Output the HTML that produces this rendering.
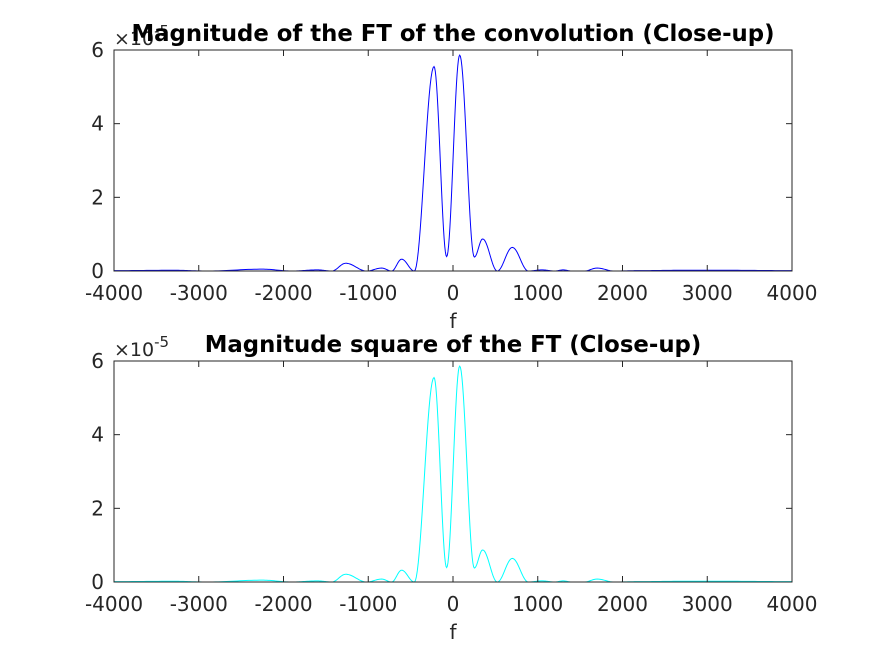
<!DOCTYPE html>
<html><head><meta charset="utf-8"><style>
body{margin:0;background:#fff;}
svg text{font-family:"DejaVu Sans","Liberation Sans",sans-serif;fill:#262626;}
</style></head><body>
<svg id="c" width="875" height="656" viewBox="0 0 875 656" xmlns="http://www.w3.org/2000/svg"></svg>
<script>
// extrema of |FT| (frequency, value x1e-5)
const freqs = [-4000,-3300,-2900,-2250,-1900,-1600,-1431,-1266,-1019,-842,-724,-606,-456,-224,-75,79,252,350,523,700,889,1050,1200,1300,1400,1550,1700,1900,2200,2700,3200,4000];
const mags  = [0.01,0.02,0.0,0.05,0.0,0.03,0.0,0.21,0.0,0.08,0.0,0.32,0.0,5.55,0.39,5.86,0.38,0.87,0.0,0.64,0.0,0.03,0.0,0.03,0.0,0.0,0.08,0.0,0.01,0.02,0.02,0.01];
const xTicks = [-4000,-3000,-2000,-1000,0,1000,2000,3000,4000];
const yTicks = [0,2,4,6];
const panels = [
 {top:50,bottom:271,color:"#0000ff",title:"Magnitude of the FT of the convolution (Close-up)",name:"top"},
 {top:361,bottom:582,color:"#00ffff",title:"Magnitude square of the FT (Close-up)",name:"bottom"}
];
const L=114,R=792,NS="http://www.w3.org/2000/svg",svg=document.getElementById('c');
function mk(t,a,p){const e=document.createElementNS(NS,t);for(const k in a)e.setAttribute(k,a[k]);(p||svg).appendChild(e);return e;}
const xs=f=>L+(f+4000)/8000*(R-L);
panels.forEach(P=>{
 const ys=v=>P.bottom-v/6*(P.bottom-P.top);
 const g=mk('g',{});
 
 
 let d='';
 for(let i=0;i<freqs.length-1;i++){
  const f0=freqs[i],f1=freqs[i+1],v0=mags[i],v1=mags[i+1];
  for(let k=0;k<=20;k++){const t=k/20,s=(1-Math.cos(Math.PI*t))/2;
   const x=xs(f0+(f1-f0)*t),y=ys(v0+(v1-v0)*s);
   d+=(d?'L':'M')+x.toFixed(2)+','+y.toFixed(2);}
 }
 const p=mk('path',{d:d,fill:'none',stroke:P.color,'stroke-width':1},g);
 
 
 const box=mk('rect',{x:L,y:P.top,width:R-L,height:P.bottom-P.top,fill:'none',stroke:'#262626','stroke-width':1},g);
 
 
 xTicks.forEach(t=>{const x=xs(t);
  mk('line',{x1:x,x2:x,y1:P.bottom,y2:P.bottom-6,stroke:'#262626'},g);
  mk('line',{x1:x,x2:x,y1:P.top,y2:P.top+6,stroke:'#262626'},g);
  const tx=mk('text',{x:x,y:P.bottom+29,'text-anchor':'middle','font-size':20},g);tx.textContent=t;
  
  
 });
 yTicks.forEach(t=>{const y=ys(t);
  mk('line',{x1:L,x2:L+6,y1:y,y2:y,stroke:'#262626'},g);
  mk('line',{x1:R,x2:R-6,y1:y,y2:y,stroke:'#262626'},g);
  const tx=mk('text',{x:L-10,y:y+7,'text-anchor':'end','font-size':20},g);tx.textContent=t;
  
  
 });
 const ex=mk('text',{x:L,y:P.top-5,'font-size':19},g);ex.innerHTML='×10<tspan dy="-9" font-size="15">-5</tspan>';
 
 
 const ti=mk('text',{x:453,y:P.top-9,'text-anchor':'middle','font-size':22.8,'font-weight':'bold',style:'fill:#000'},g);ti.textContent=P.title;
 
 
 const xl=mk('text',{x:453,y:P.bottom+57,'text-anchor':'middle','font-size':20},g);xl.textContent='f';
 
 
});
</script>
</body></html>
